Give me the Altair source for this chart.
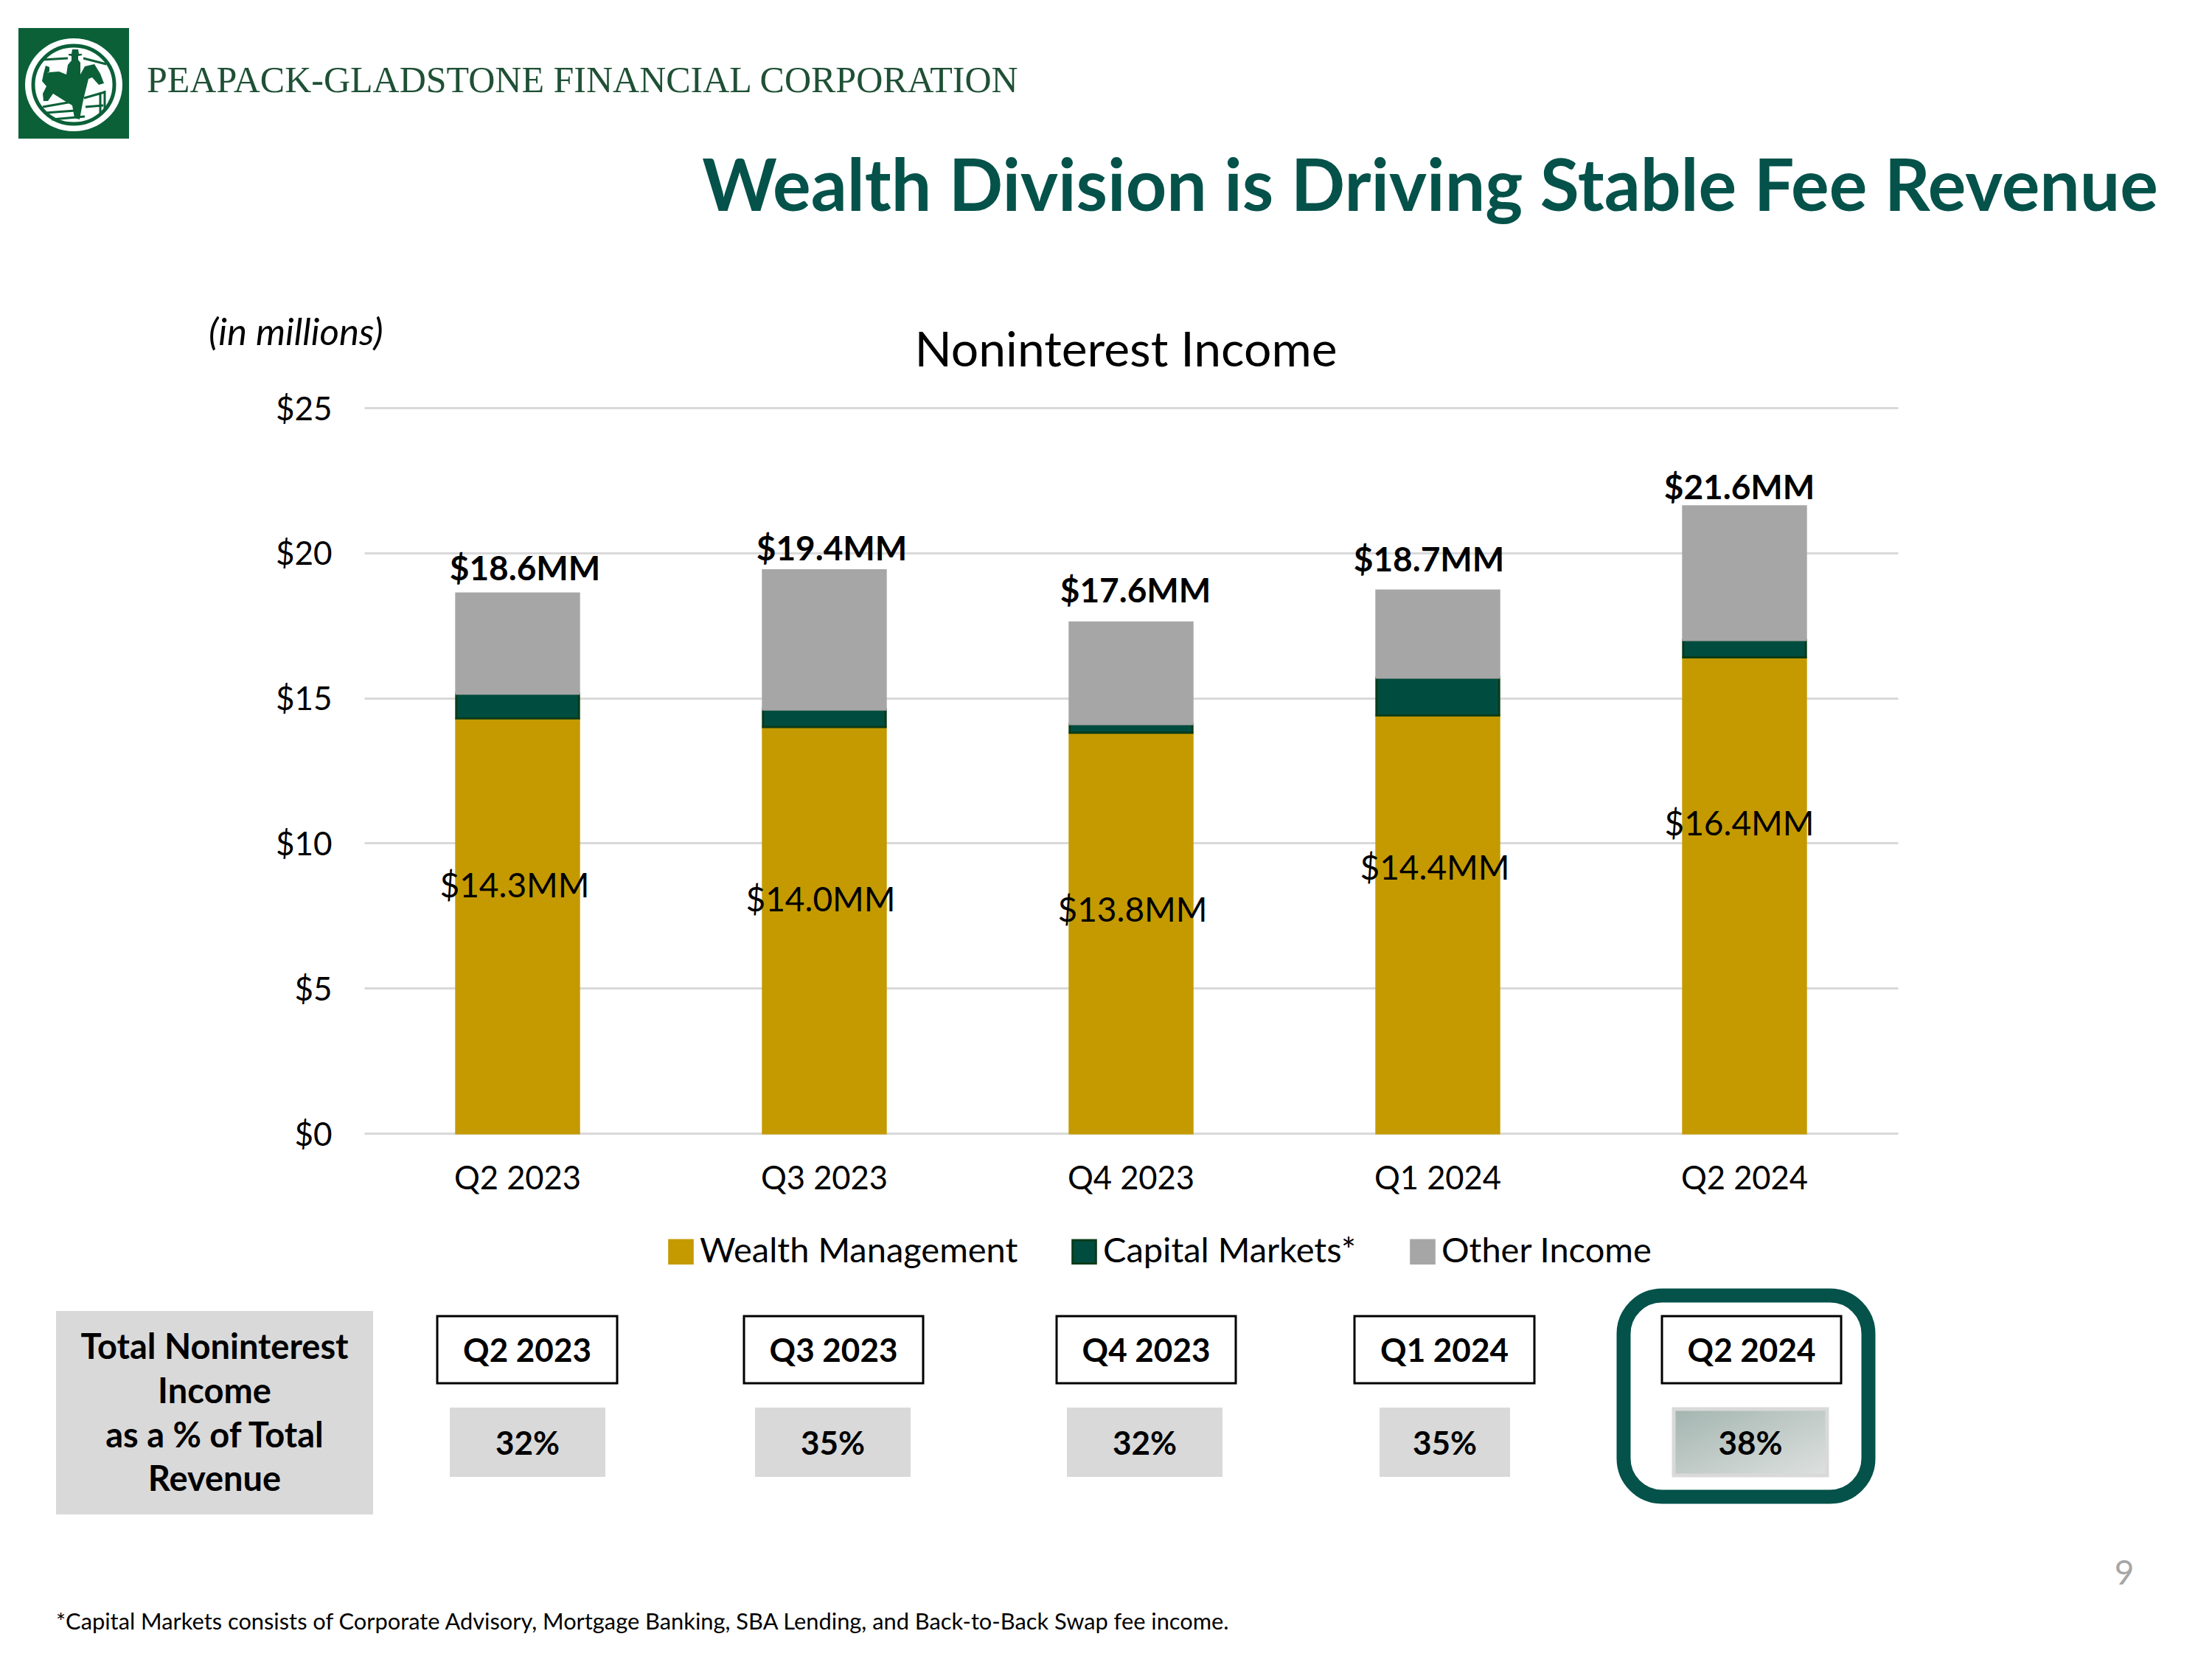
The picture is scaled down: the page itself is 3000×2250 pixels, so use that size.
import altair as alt
import pandas as pd

quarters = ["Q2 2023", "Q3 2023", "Q4 2023", "Q1 2024", "Q2 2024"]
wealth = [14.3, 14.0, 13.8, 14.4, 16.4]
capital = [0.85, 0.6, 0.3, 1.3, 0.6]
other = [3.45, 4.8, 3.5, 3.0, 4.6]
totals = [18.6, 19.4, 17.6, 18.7, 21.6]
wealth_labels = ["$14.3MM", "$14.0MM", "$13.8MM", "$14.4MM", "$16.4MM"]
total_labels = ["$18.6MM", "$19.4MM", "$17.6MM", "$18.7MM", "$21.6MM"]
series = ["Wealth Management", "Capital Markets*", "Other Income"]
pct_labels = ["32%", "35%", "32%", "35%", "38%"]
left_lines = ["Total Noninterest", "Income", "as a % of Total", "Revenue"]

GREEN = "#04524A"
LOGO = "#0B6038"
FONT = "Lato"
PX, PY = 494, 553   # plot origin on the page
PW, PH = 2080, 984
AX, AY = lambda v: alt.value(v - PX), lambda v: alt.value(v - PY)

rows = []
for i, q in enumerate(quarters):
    for j, (s, vals) in enumerate(zip(series, [wealth, capital, other])):
        rows.append({"quarter": q, "series": s, "value": vals[i], "ord": j})
df = pd.DataFrame(rows)

yscale = alt.Scale(domain=[0, 25], nice=False, zero=True)
xenc = alt.X("quarter:N", sort=quarters, title=None,
             scale=alt.Scale(paddingInner=0.6, paddingOuter=0.3),
             axis=alt.Axis(labelFont=FONT, labelFontSize=43.5, labelColor="#000000", labelAngle=0,
                           domain=False, ticks=False, labelPadding=41, grid=False, labelLimit=1000))
yenc = alt.Y("value:Q", stack="zero", title=None,
             scale=yscale,
             axis=alt.Axis(values=[0, 5, 10, 15, 20, 25], labelExpr="'$' + datum.value",
                           labelFont=FONT, labelFontSize=44, labelColor="#000000",
                           labelPadding=44, labelOffset=3, domain=False, ticks=False,
                           grid=True, gridColor="#D9D9D9", gridWidth=3))

bars = alt.Chart(df).mark_bar(strokeWidth=3).encode(
    x=xenc, y=yenc,
    order=alt.Order("ord:Q"),
    color=alt.Color("series:N", sort=series, title=None,
                    scale=alt.Scale(domain=series, range=["#C49A00", "#004D40", "#A6A6A6"]),
                    legend=alt.Legend(orient="none", legendX=900 - PX, legendY=1674 - PY,
                                      direction="horizontal", columns=3, symbolType="square",
                                      symbolSize=1000, symbolStrokeWidth=3, labelFont=FONT,
                                      labelFontSize=47, labelColor="#000000", labelOffset=2,
                                      columnPadding=66, symbolOpacity=1, labelLimit=1000)),
    stroke=alt.Stroke("series:N", sort=series,
                      scale=alt.Scale(domain=series, range=["#C49A00", "#0B3B18", "#A6A6A6"])),
)

layers = [bars]

tdf = pd.DataFrame({"quarter": quarters, "total": totals, "wl": wealth, "tl": total_labels, "wtl": wealth_labels})
tdf["half"] = tdf["wl"] / 2

total_off = [(10, -32), (10, -27), (6, -41), (-12, -40), (-7, -24)]
wealth_off = [(-4, -53), (-5, -39), (2, -29), (-4, -75), (-7, -95)]
for i in range(5):
    one = tdf.iloc[[i]]
    layers.append(alt.Chart(one).mark_text(font=FONT, fontSize=46, fontWeight="bold", color="#000000",
                                           dx=total_off[i][0], dy=total_off[i][1], baseline="middle").encode(
        x=alt.X("quarter:N", sort=quarters), y=alt.Y("total:Q", scale=yscale), text="tl:N"))
    layers.append(alt.Chart(one).mark_text(font=FONT, fontSize=46, color="#000000",
                                           dx=wealth_off[i][0], dy=wealth_off[i][1], baseline="middle").encode(
        x=alt.X("quarter:N", sort=quarters), y=alt.Y("half:Q", scale=yscale), text="wtl:N"))


def anno(x1, y1, x2, y2, **kw):
    return alt.Chart(pd.DataFrame({"a": [0]})).mark_rect(**kw).encode(
        x=AX(x1), x2=AX(x2), y=AY(y1), y2=AY(y2))


def label(text, x, y, size=46, bold=False, align="center", color="#000000", font=FONT, italic=False):
    kw = {"fontStyle": "italic"} if italic else {}
    return alt.Chart(pd.DataFrame({"t": [text]})).mark_text(
        font=font, fontSize=size, fontWeight="bold" if bold else "normal",
        align=align, baseline="middle", color=color, **kw).encode(
        x=AX(x), y=AY(y), text="t:N")


def glyph(path, x, y, **kw):
    # size=4 makes one path unit equal one pixel
    return alt.Chart(pd.DataFrame({"a": [0]})).mark_point(opacity=1, size=4, shape=path, **kw).encode(
        x=AX(x), y=AY(y))


# logo
layers.append(anno(25, 38, 175, 188, fill=LOGO))
layers.append(glyph("M-66,0 A66,63 0 1 0 66,0 A66,63 0 1 0 -66,0 Z", 100, 115, filled=True, fill="#FFFFFF"))
layers.append(glyph("M-55,0 A55,53 0 1 0 55,0 A55,53 0 1 0 -55,0 Z", 100, 115, filled=False, stroke=LOGO, strokeWidth=5))
rider = ("M-2,-48 L6,-48 L7,-42 L11,-42 L11,-40 L6,-39 L6,-34 L9,-30 L9,-14 L-10,-14 L-8,-27 L-3,-33 L-3,-39 L-7,-40 L-7,-42 L-3,-42 Z")
horse = ("M-38,-26 L-33,-24 L-33,-18 L-38,-15 L-40,-15 L-33,-17 L-20,-18 L-10,-14 L9,-14 L15,-25 L28,-28 L36,-15 L41,-2 "
         "L34,0 L25,-10 L20,-8 L15,12 L12,25 L8,47 L1,45 L-2,28 L-12,22 L-28,12 L-35,22 L-41,22 L-42,12 L-37,2 L-43,-5 L-41,-15 Z")
layers.append(glyph(rider, 100, 115, filled=True, fill=LOGO))
layers.append(glyph(horse, 100, 115, filled=True, fill=LOGO))
scenery = ("M-42,-34 L-8,-36 M13,-36 L44,-28 M-42,30 L-2,23 M-38,38 L2,35 M-30,47 L15,43 "
           "M14,18 L42,10 M16,30 L40,28 M36,10 L36,38 M42,8 L42,36")
layers.append(glyph(scenery, 100, 115, filled=False, stroke=LOGO, strokeWidth=3))

# slide header
layers.append(label("PEAPACK-GLADSTONE FINANCIAL CORPORATION", 199, 110, size=50, align="left",
                    color="#1F5035", font="Liberation Serif"))
layers.append(label("Wealth Division is Driving Stable Fee Revenue", 2927, 257, size=96.7, bold=True,
                    align="right", color=GREEN))
layers.append(label("(in millions)", 283, 453, size=51, align="left", italic=True))
layers.append(label("Noninterest Income", 1527, 477, size=66))

# table below the chart
layers.append(anno(76, 1778, 506, 2054, fill="#D9D9D9"))
for line, y in zip(left_lines, [1829, 1889, 1949, 2008]):
    layers.append(label(line, 291, y, size=47, bold=True))

head_x = [(593, 837), (1009, 1252), (1433, 1676), (1837, 2081), (2254, 2497)]
pct_x = [(610, 821), (1024, 1235), (1447, 1658), (1871, 2048), (2268, 2480)]
for i in range(5):
    x1, x2 = head_x[i]
    layers.append(anno(x1, 1785, x2, 1876, fill="#FFFFFF", stroke="#000000", strokeWidth=3))
    layers.append(label(quarters[i], (x1 + x2) / 2, 1834, size=44, bold=True))
    x1, x2 = pct_x[i]
    if i == 4:
        layers.append(anno(x1 + 2, 1911, x2 - 2, 2001, stroke="#D9D9D9", strokeWidth=5, fill=alt.Gradient(
            gradient="linear", x1=0, y1=0, x2=1, y2=1,
            stops=[alt.GradientStop(offset=0, color="#A3B5B0"), alt.GradientStop(offset=1, color="#DEE1DF")])))
    else:
        layers.append(anno(x1, 1909, x2, 2003, fill="#D9D9D9"))
    layers.append(label(pct_labels[i], (x1 + x2) / 2, 1960, size=44, bold=True))

layers.append(anno(2202, 1757, 2534, 2030, fill="transparent", stroke=GREEN, strokeWidth=19, cornerRadius=52))

layers.append(label("*Capital Markets consists of Corporate Advisory, Mortgage Banking, SBA Lending, and Back-to-Back Swap fee income.",
                    76, 2201, size=30.8, align="left"))
layers.append(label("9", 2881, 2135, size=46, color="#A6A6A6"))

chart = alt.layer(*layers).resolve_scale(x="shared", y="shared").properties(
    width=PW, height=PH,
    autosize=alt.AutoSizeParams(type="none"),
    padding={"left": PX - 8, "top": PY - 8, "right": 2984 - (PX - 8) - PW, "bottom": 2234 - (PY - 8) - PH},
    background="#FFFFFF",
).configure_view(stroke=None)

chart.save("out.html", embed_options={"renderer": "svg", "actions": False})
